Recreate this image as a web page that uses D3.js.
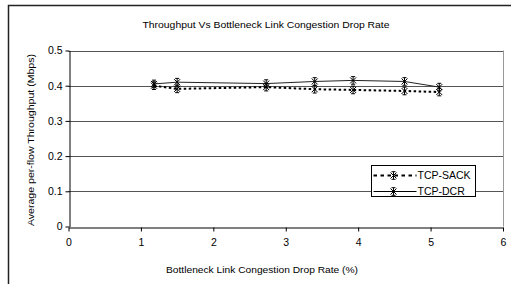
<!DOCTYPE html>
<html><head><meta charset="utf-8">
<script src="https://cdn.jsdelivr.net/npm/d3@7"></script>
<style>body{margin:0;background:#fff}svg{display:block;font-family:"Liberation Sans",Arial,sans-serif}</style>
</head><body><svg id="c" width="511" height="284"></svg>
<script>
const dropRate = [1.18, 1.5, 2.73, 3.4, 3.93, 4.64, 5.12];
const sackThroughput = [0.400, 0.391, 0.396, 0.390, 0.388, 0.385, 0.382];
const dcrThroughput = [0.405, 0.410, 0.406, 0.412, 0.415, 0.412, 0.396];
const seriesNames = ["TCP-SACK", "TCP-DCR"];
const xTicks = [0, 1, 2, 3, 4, 5, 6];
const yTicks = [0, 0.1, 0.2, 0.3, 0.4, 0.5];

const svg = d3.select("#c");
const x = d3.scaleLinear().domain([0, 6]).range([68.5, 503]);
const y = d3.scaleLinear().domain([0, 0.5]).range([226.5, 50.5]);

// outer frame
svg.append("path").attr("d", "M8.5,290 V5.5 H520").attr("fill", "none").attr("stroke", "#222").attr("stroke-width", 1.5);

// gridlines
svg.append("g").selectAll("line").data(yTicks.filter(d => d > 0)).join("line")
  .attr("x1", x(0)).attr("x2", x(6)).attr("y1", d => Math.round(y(d)) + 0.5).attr("y2", d => Math.round(y(d)) + 0.5)
  .attr("stroke", "#555").attr("stroke-width", 1);
// right border of plot
svg.append("line").attr("x1", x(6) + 0.5).attr("x2", x(6) + 0.5).attr("y1", y(0.5)).attr("y2", y(0))
  .attr("stroke", "#999");

// axes
const xAxis = svg.append("g").attr("transform", `translate(0,${Math.round(y(0)) + 0.5})`)
  .call(d3.axisBottom(x).tickValues(xTicks).tickFormat(d3.format("d")).tickSize(4).tickSizeOuter(0));
const yAxis = svg.append("g").attr("transform", `translate(${Math.round(x(0)) + 0.5},0)`)
  .call(d3.axisLeft(y).tickValues(yTicks).tickFormat(d => d === 0 ? "0" : d3.format(".1f")(d)).tickSize(4).tickSizeOuter(0));
[xAxis, yAxis].forEach(a => {
  a.selectAll("path,line").attr("stroke", "#000");
  a.selectAll("text").attr("font-size", 10.5).attr("fill", "#000").attr("font-family", "Liberation Sans, Arial, sans-serif");
});
xAxis.selectAll("text").attr("dy", "1.05em");
yAxis.selectAll("text").attr("x", -7);

// marker path
const star = "M-3,-3L3,3M-3,3L3,-3M0,-3.8V3.8M-2,-3.8H2M-2,3.8H2";

const line = d3.line().x((d, i) => x(dropRate[i])).y(d => y(d));
svg.append("path").datum(sackThroughput).attr("d", line).attr("fill", "none")
  .attr("stroke", "#000").attr("stroke-width", 2).attr("stroke-dasharray", "2.5,2.5");
svg.append("path").datum(dcrThroughput).attr("d", line).attr("fill", "none")
  .attr("stroke", "#222").attr("stroke-width", 1);

[sackThroughput, dcrThroughput].forEach(s => {
  svg.append("g").selectAll("path").data(s).join("path")
    .attr("transform", (d, i) => `translate(${x(dropRate[i])},${y(d)})`)
    .attr("d", star).attr("fill", "none").attr("stroke", "#000").attr("stroke-width", 1);
});

// legend
const lg = svg.append("g").attr("transform", "translate(371.5,165.5)");
lg.append("rect").attr("width", 104).attr("height", 31).attr("fill", "#fff").attr("stroke", "#000");
seriesNames.forEach((n, i) => {
  const yy = 10 + i * 16;
  const l = lg.append("line").attr("x1", 2).attr("x2", 45).attr("y1", yy).attr("y2", yy).attr("stroke", "#000");
  if (i === 0) l.attr("stroke-width", 2).attr("stroke-dasharray", "3.5,3.5"); else l.attr("stroke-width", 1);
  lg.append("path").attr("transform", `translate(22,${yy})`).attr("d", star).attr("fill", "none").attr("stroke", "#000");
  lg.append("text").attr("x", 46).attr("y", yy + 3.7).attr("font-size", 10.5).text(n);
});

// titles
svg.append("text").attr("x", 266).attr("y", 28).attr("text-anchor", "middle").attr("font-size", 9.5)
  .attr("textLength", 247).attr("lengthAdjust", "spacingAndGlyphs")
  .text("Throughput Vs Bottleneck Link Congestion Drop Rate");
svg.append("text").attr("x", 262).attr("y", 273).attr("text-anchor", "middle").attr("font-size", 9.5)
  .attr("textLength", 192).attr("lengthAdjust", "spacingAndGlyphs")
  .text("Bottleneck Link Congestion Drop Rate (%)");
svg.append("text").attr("transform", "translate(34,140) rotate(-90)").attr("text-anchor", "middle").attr("font-size", 9.5)
  .attr("textLength", 172).attr("lengthAdjust", "spacingAndGlyphs")
  .text("Average per-flow Throughput (Mbps)");
</script></body></html>
